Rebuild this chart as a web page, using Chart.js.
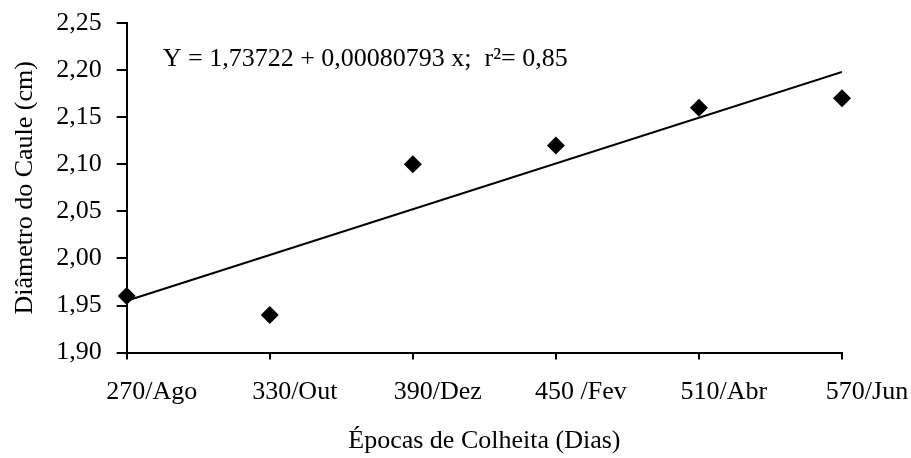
<!DOCTYPE html>
<html>
<head>
<meta charset="utf-8">
<script src="https://cdn.jsdelivr.net/npm/chart.js@4/dist/chart.umd.min.js"></script>
<style>
  html, body { margin: 0; padding: 0; background: #fff; }
  #wrap { width: 911px; height: 458px; }
</style>
</head>
<body>
<div id="wrap"><canvas id="chart" width="911" height="458"></canvas></div>
<script>
// data
const days = [270, 330, 390, 450, 510, 570];
const xLabels = ['270/Ago', '330/Out', '390/Dez', '450 /Fev', '510/Abr', '570/Jun'];
const diameter = [1.96, 1.94, 2.10, 2.12, 2.16, 2.17];
const trendX = [270, 570];
const trendY = [1.955, 2.198];
const yTicks = [1.90, 1.95, 2.00, 2.05, 2.10, 2.15, 2.20, 2.25];
const equation = 'Y = 1,73722 + 0,00080793 x;  r\u00B2= 0,85';

const font = 'Liberation Serif, Times New Roman, serif';

const eqPlugin = {
    id: 'eq',
    afterDraw(chart) {
        const ctx = chart.ctx;
        const area = chart.chartArea;
        ctx.save();
        ctx.font = '26px ' + font;
        ctx.fillStyle = '#000';
        ctx.textBaseline = 'alphabetic';
        ctx.fillText(equation, area.left + 36, area.top + 43);
        ctx.restore();
    }
};

let ctx = document.getElementById('chart').getContext('2d');
let myChart = new Chart(ctx, {
    type: 'scatter',
    data: {
        datasets: [
            {
                label: 'Diâmetro',
                data: days.map((d, i) => ({ x: d, y: diameter[i] })),
                pointStyle: 'rectRot',
                pointRadius: 9,
                backgroundColor: '#000',
                borderColor: '#000',
                borderWidth: 0,
                showLine: false,
                clip: false
            },
            {
                label: 'Tendência',
                data: trendX.map((d, i) => ({ x: d, y: trendY[i] })),
                showLine: true,
                pointRadius: 0,
                borderColor: '#000',
                borderWidth: 2,
                fill: false
            }
        ]
    },
    options: {
        responsive: false,
        animation: false,
        layout: { padding: { top: 23, right: 69, left: 6, bottom: 0 } },
        plugins: {
            legend: { display: false },
            tooltip: { enabled: false }
        },
        scales: {
            x: {
                type: 'linear',
                min: 270,
                max: 570,
                afterBuildTicks(axis) {
                    axis.ticks = days.map(v => ({ value: v }));
                },
                grid: {
                    drawOnChartArea: false,
                    drawTicks: true,
                    tickLength: 7,
                    lineWidth: 2,
                    color: '#000',
                    tickColor: '#000'
                },
                border: { color: '#000', width: 2 },
                ticks: {
                    color: '#000',
                    font: { family: font, size: 26 },
                    padding: 17,
                    labelOffset: 25,
                    maxRotation: 0,
                    autoSkip: false,
                    callback: (v) => {
                        const i = days.indexOf(v);
                        return i >= 0 ? xLabels[i] : '';
                    }
                },
                title: {
                    display: true,
                    text: 'Épocas de Colheita (Dias)',
                    color: '#000',
                    font: { family: font, size: 26 },
                    padding: { top: 1, bottom: 1 }
                }
            },
            y: {
                min: 1.90,
                max: 2.25,
                afterBuildTicks(axis) {
                    axis.ticks = yTicks.map(v => ({ value: v }));
                },
                afterFit(axis) {
                    // keep the plot top set by layout padding only
                    axis.paddingTop = 0;
                    axis.paddingBottom = 0;
                },
                grid: {
                    drawOnChartArea: false,
                    drawTicks: true,
                    tickLength: 10,
                    lineWidth: 2,
                    color: '#000',
                    tickColor: '#000'
                },
                border: { color: '#000', width: 2 },
                ticks: {
                    color: '#000',
                    font: { family: font, size: 26 },
                    padding: 15,
                    callback: (v) => v.toFixed(2).replace('.', ',')
                },
                title: {
                    display: true,
                    text: 'Diâmetro do Caule (cm)',
                    color: '#000',
                    font: { family: font, size: 26 },
                    padding: { top: 4, bottom: 0 }
                }
            }
        }
    },
    plugins: [eqPlugin]
});
</script>
</body>
</html>
